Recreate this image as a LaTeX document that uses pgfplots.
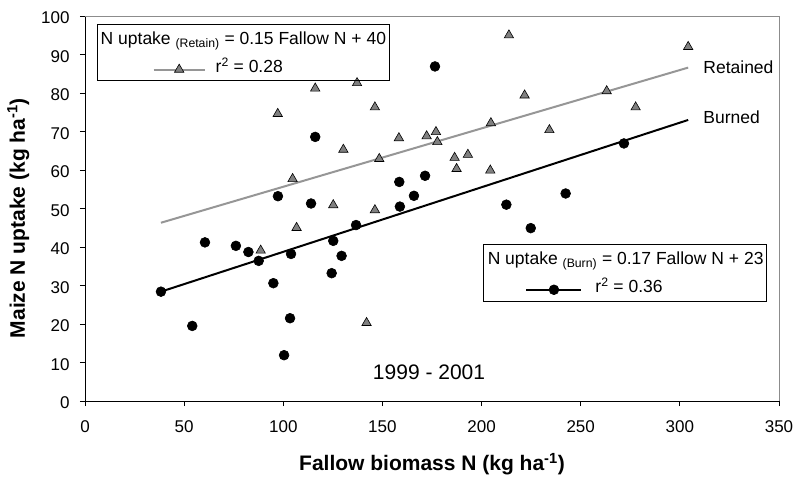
\documentclass[border=0pt]{standalone}
\usepackage{fontspec}
\setmainfont{Liberation Sans}
\usepackage{pgfplots}
\pgfplotsset{compat=1.18}

\definecolor{retline}{RGB}{150,150,150}
\definecolor{trifill}{RGB}{128,128,128}
\definecolor{frame}{RGB}{140,140,140}

\pgfplotsset{
  retimg/.style={legend image code/.code={%
    \path (0pt,0pt);
    \draw[mark repeat=2,mark phase=2,##1] plot coordinates {(52pt,-3pt) (77.5pt,-3pt) (103pt,-3pt)};}},
  burimg/.style={legend image code/.code={%
    \path (0pt,0pt);
    \draw[mark repeat=2,mark phase=2,##1] plot coordinates {(38.7pt,-3pt) (66.2pt,-3pt) (93.7pt,-3pt)};}},
  base/.style={width=694pt, height=385pt, scale only axis,
    xmin=0, xmax=350, ymin=0, ymax=100, clip=false},
  legbox/.style={legend cell align=left,
    legend style={draw=black, line width=0.8pt, fill=none,
      inner xsep=3pt, inner ysep=5pt, row sep=9.3pt,
      nodes={inner sep=0pt, text height=15pt, text depth=3.5pt,
        font=\fontsize{17.5}{21}\selectfont}}},
  retained/.style={retline, line width=2pt, mark=triangle*, mark size=5.4pt,
    mark options={fill=trifill, draw=black, line width=0.6pt, solid}},
  burned/.style={black, line width=2pt, mark=*, mark size=4.9pt,
    mark options={fill=black, draw=black, line width=0.6pt}},
}

% Retained residues (triangles)
\pgfplotstableread{
x y
88.6 39.1
97.2 74.6
104.7 57.7
106.7 45.0
116.1 81.2
125.2 50.9
130.3 65.3
137.2 82.6
142.0 20.3
146.2 76.3
146.2 49.6
148.4 62.9
158.3 68.3
172.3 68.8
177.0 69.9
177.7 67.3
186.4 63.2
187.4 60.3
193.1 64.0
204.4 59.9
204.7 72.2
213.8 95.0
221.7 79.4
234.2 70.4
263.1 80.5
277.7 76.3
304.2 92.0
}\retaineddata

% Burned residues (circles)
\pgfplotstableread{
x y
38.3 28.4
54.1 19.5
60.5 41.2
76.1 40.3
82.4 38.7
87.6 36.4
95.0 30.6
97.3 53.2
100.4 11.9
103.4 21.5
103.9 38.2
114.0 51.3
116.1 68.6
124.4 33.2
125.2 41.6
129.4 37.7
136.7 45.7
158.5 56.9
158.8 50.5
165.9 53.3
171.5 58.5
176.5 86.9
212.5 51.0
224.8 44.9
242.4 53.9
271.8 66.9
}\burneddata

\begin{document}
\begin{tikzpicture}
\useasboundingbox (-85pt,-76pt) rectangle (712pt,401pt);

% the second axis only carries the "Burn" legend, drawn first so data sits on top
\begin{axis}[base, legbox, hide axis,
  legend style={at={(axis cs:200.9,40.7)}, anchor=north west, column sep=13pt},
]
\addlegendimage{empty legend}
\addlegendentry{\hspace*{-107.7pt}N uptake \textsubscript{(Burn)} = 0.17 Fallow N + 23}
\addlegendimage{burned, burimg}
\addlegendentry{r\textsuperscript{2} = 0.36}
\end{axis}

\begin{axis}[base, legbox,
  axis lines*=left, axis line style={-, line width=0.8pt, black},
  tick align=outside, major tick length=5pt,
  tick style={black, line width=0.8pt},
  xtick={0,50,...,350}, ytick={0,10,...,100},
  /pgf/number format/assume math mode=true,
  ticklabel style={font=\fontsize{17}{20}\selectfont},
  yticklabel style={xshift=-7pt, yshift=-2pt},
  xticklabel style={yshift=-11pt},
  xlabel={Fallow biomass N (kg ha\textsuperscript{-1})},
  ylabel={Maize N uptake (kg ha\textsuperscript{-1})},
  label style={font=\fontsize{21}{25}\selectfont\bfseries},
  xlabel style={at={(axis description cs:0.5,-0.1818)}, anchor=base},
  ylabel style={at={(axis description cs:-0.0865,0.475)}, anchor=base},
  legend style={at={(axis cs:6.2,97.9)}, anchor=north west, column sep=10pt},
]
\draw[frame, line width=0.8pt] (rel axis cs:0,1) -- (rel axis cs:1,1) -- (rel axis cs:1,0);

% trend lines
\addplot[retline, line width=2pt, forget plot] coordinates {(38.3,46.3) (304.2,86.6)};
\addplot[black, line width=2pt, forget plot] coordinates {(38.3,28.4) (304.2,73.0)};

% observations
\addplot[retained, only marks, forget plot] table[x=x, y=y] {\retaineddata};
\addplot[burned, only marks, forget plot] table[x=x, y=y] {\burneddata};

\addlegendimage{empty legend}
\addlegendentry{\hspace*{-115pt}N uptake \textsubscript{(Retain)} = 0.15 Fallow N + 40}
\addlegendimage{retained, retimg}
\addlegendentry{r\textsuperscript{2} = 0.28}

\node[anchor=west, font=\fontsize{17.5}{21}\selectfont] at (axis cs:310.1,86.8) {Retained};
\node[anchor=west, font=\fontsize{17.5}{21}\selectfont] at (axis cs:310.1,73.8) {Burned};
\node[font=\fontsize{21}{25}\selectfont] at (axis cs:173.5,7.4) {1999 - 2001};
\end{axis}
\end{tikzpicture}
\end{document}
